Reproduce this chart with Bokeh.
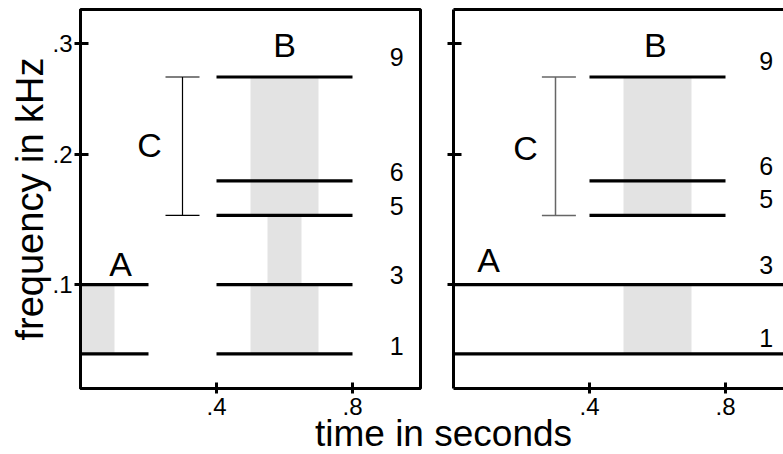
from bokeh.plotting import figure
from bokeh.layouts import column, row
from bokeh.models import FixedTicker, Range1d, LinearAxis, Label
from bokeh.embed import file_html
from bokeh.resources import INLINE
from bokeh.core.properties import value

FONT = "Liberation Sans"
GREY = "#e3e3e3"

# ---- data (y in harmonic-number units, x in seconds) ----
y_tick_pos = [3.0, 6.76, 9.97]
y_tick_labels = [".1", ".2", ".3"]
x_tick_pos = [0.4, 0.8]
x_tick_labels = [".4", ".8"]
y_max = 10.95

# left panel
left_A_harm = [1, 3]
left_A_x0, left_A_x1 = 0.0, 0.2
left_B_harm = [1, 3, 5, 6, 9]
B_x0, B_x1 = 0.4, 0.8
left_grey_x0 = [0.0, 0.5, 0.55, 0.5]
left_grey_x1 = [0.1, 0.7, 0.65, 0.7]
left_grey_bottom = [1, 5, 3, 1]
left_grey_top = [3, 9, 5, 3]
left_num_text = ["1", "3", "5", "6", "9"]
left_num_y = [1.24, 3.28, 5.28, 6.26, 9.58]
left_num_x = 0.93
left_letters = ["A", "B", "C"]
left_letter_x = [0.118, 0.6, 0.203]
left_letter_y = [3.6, 9.93, 7.03]
left_C_x, left_C_cap = 0.3, (0.25, 0.35)

# right panel
right_A_harm = [1, 3]
right_A_x0, right_A_x1 = 0.0, 1.2
right_B_harm = [5, 6, 9]
right_grey_x0 = [0.5, 0.5]
right_grey_x1 = [0.7, 0.7]
right_grey_bottom = [5, 1]
right_grey_top = [9, 3]
right_num_text = ["1", "3", "5", "6", "9"]
right_num_y = [1.45, 3.56, 5.48, 6.43, 9.47]
right_num_x = 0.92
right_letters = ["A", "B", "C"]
right_letter_x = [0.103, 0.594, 0.212]
right_letter_y = [3.7, 9.92, 6.96]
right_C_x, right_C_cap = 0.3, (0.26, 0.36)
C_span = (5, 9)

PX_PER_X = 340.0


def style_common(p):
    for ax in p.axis:
        ax.minor_tick_line_color = None
        ax.axis_line_width = 3
        ax.axis_line_color = "black"
        ax.major_tick_line_width = 3
        ax.major_tick_line_color = "black"
        ax.major_label_text_font = FONT
        ax.major_label_text_font_size = "24px"
        ax.major_label_text_color = "black"
    p.grid.visible = False
    p.background_fill_color = "white"
    p.border_fill_color = "white"


def style_x(ax):
    ax.ticker = FixedTicker(ticks=x_tick_pos)
    ax.major_label_overrides = {t: l for t, l in zip(x_tick_pos, x_tick_labels)}
    ax.major_tick_in = 6
    ax.major_tick_out = 5
    ax.major_label_standoff = 4


def draw_panel(p, grey_x0, grey_x1, grey_b, grey_t, a_harm, a_x0, a_x1, b_harm,
               num_text, num_x, num_y, letters, lx, ly, c_x, c_cap, c_color, c_width):
    p.quad(left=grey_x0, right=grey_x1, bottom=grey_b, top=grey_t,
           fill_color=GREY, line_color=None)
    p.segment(x0=[a_x0] * len(a_harm), x1=[a_x1] * len(a_harm), y0=a_harm, y1=a_harm,
              line_color="black", line_width=3.2)
    p.segment(x0=[B_x0] * len(b_harm), x1=[B_x1] * len(b_harm), y0=b_harm, y1=b_harm,
              line_color="black", line_width=3.2)
    # C bracket
    p.segment(x0=[c_x, c_cap[0], c_cap[0]], x1=[c_x, c_cap[1], c_cap[1]],
              y0=[C_span[0], C_span[0], C_span[1]], y1=[C_span[1], C_span[0], C_span[1]],
              line_color=c_color, line_width=c_width)
    p.text(x=[num_x] * len(num_text), y=num_y, text=num_text,
           text_font=value(FONT), text_font_size="25px", text_color="black",
           text_align="center", text_baseline="alphabetic")
    p.text(x=lx, y=ly, text=letters,
           text_font=value(FONT), text_font_size="34px", text_color="black",
           text_align="center", text_baseline="alphabetic")


# ---- left panel ----
p1 = figure(frame_width=340, frame_height=379, x_range=Range1d(0, 1.0),
            y_range=Range1d(0, y_max), min_border_left=80, min_border_right=2,
            min_border_top=9, min_border_bottom=33, toolbar_location=None,
            output_backend="svg")
style_common(p1)
style_x(p1.xaxis[0])
yax = p1.yaxis[0]
yax.ticker = FixedTicker(ticks=y_tick_pos)
yax.major_label_overrides = {t: l for t, l in zip(y_tick_pos, y_tick_labels)}
yax.major_tick_in = 8
yax.major_tick_out = 6
yax.major_label_standoff = 2
p1.outline_line_color = "black"
p1.outline_line_width = 3
yax.axis_label = "frequency in kHz"
yax.axis_label_text_font = FONT
yax.axis_label_text_font_size = "38px"
yax.axis_label_text_font_style = "normal"
yax.axis_label_text_color = "black"
yax.axis_label_standoff = -2
draw_panel(p1, left_grey_x0, left_grey_x1, left_grey_bottom, left_grey_top,
           left_A_harm, left_A_x0, left_A_x1, left_B_harm,
           left_num_text, left_num_x, left_num_y, left_letters,
           left_letter_x, left_letter_y, left_C_x, left_C_cap, "black", 1.2)

# ---- right panel (clipped at the window edge) ----
right_frame_w = 330
p2 = figure(frame_width=right_frame_w, frame_height=379,
            x_range=Range1d(0, right_frame_w / PX_PER_X), y_range=Range1d(0, y_max),
            min_border_left=31, min_border_right=0, min_border_top=9,
            min_border_bottom=33, toolbar_location=None, output_backend="svg")
top_axis = LinearAxis(ticker=FixedTicker(ticks=[]), major_tick_out=0, major_tick_in=0,
                      major_label_standoff=0)
p2.add_layout(top_axis, "above")
style_common(p2)
for ax in p2.below:
    style_x(ax)
# left ticks of the right panel carry no labels: draw them as (styled) minor ticks
ryax = p2.yaxis[0]
ryax.ticker = FixedTicker(ticks=[], minor_ticks=y_tick_pos)
ryax.minor_tick_line_color = "black"
ryax.minor_tick_line_width = 3
ryax.minor_tick_in = 8
ryax.minor_tick_out = 6
p2.outline_line_color = None
draw_panel(p2, right_grey_x0, right_grey_x1, right_grey_bottom, right_grey_top,
           right_A_harm, right_A_x0, right_A_x1, right_B_harm,
           right_num_text, right_num_x, right_num_y, right_letters,
           right_letter_x, right_letter_y, right_C_x, right_C_cap, "#666666", 1.5)

# ---- shared x-axis title (strip overlaps the row's bottom border a little) ----
row_h = 9 + 379 + 33
overlap = 14
p3_h = 454 - row_h + overlap
p3 = figure(frame_width=783, frame_height=p3_h, x_range=Range1d(0, 783),
            y_range=Range1d(0, p3_h), min_border=0, toolbar_location=None,
            output_backend="svg", x_axis_type=None, y_axis_type=None,
            margin=(-overlap, 0, 0, 0))
p3.outline_line_color = None
p3.background_fill_color = None
p3.border_fill_color = None
p3.grid.visible = False
p3.add_layout(Label(x=443, y=21, x_units="screen", y_units="screen",
                    text="time in seconds", text_font=FONT, text_font_size="37px",
                    text_color="black", text_align="center", text_baseline="alphabetic"))

layout = column(row(p1, p2, spacing=0), p3, spacing=0)
open("out.html", "w").write(file_html(layout, INLINE))
